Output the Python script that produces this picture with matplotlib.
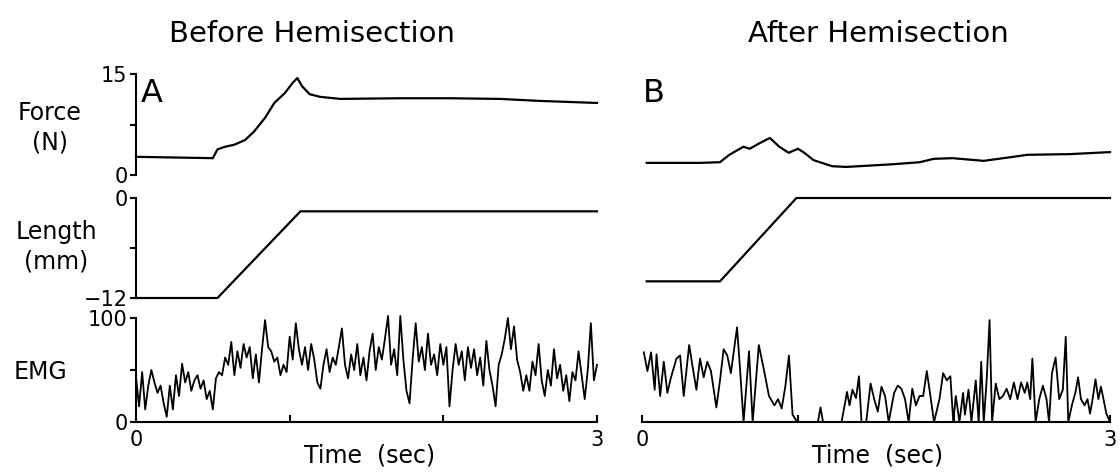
import matplotlib
matplotlib.use("Agg")
import matplotlib.pyplot as plt

# ---- data ----
force_a_t = [0.0, 0.50, 0.53, 0.58, 0.64, 0.71, 0.77, 0.84, 0.90, 0.97, 1.02, 1.05,
             1.08, 1.13, 1.20, 1.33, 1.72, 2.04, 2.37, 2.63, 3.0]
force_a = [2.7, 2.5, 3.8, 4.2, 4.5, 5.2, 6.5, 8.5, 10.7, 12.2, 13.7, 14.4,
           13.2, 12.0, 11.6, 11.3, 11.4, 11.4, 11.3, 11.0, 10.7]

force_b_t = [0.03, 0.37, 0.50, 0.56, 0.65, 0.69, 0.76, 0.82, 0.88, 0.94, 1.00, 1.04,
             1.10, 1.22, 1.31, 1.61, 1.78, 1.87, 1.99, 2.19, 2.38, 2.47, 2.74, 3.0]
force_b = [1.8, 1.8, 1.9, 3.0, 4.2, 3.9, 4.8, 5.5, 4.2, 3.3, 3.9, 3.3,
           2.2, 1.3, 1.2, 1.6, 1.9, 2.4, 2.5, 2.1, 2.7, 3.0, 3.1, 3.4]

length_a_t = [0.0, 0.53, 1.07, 3.0]
length_a = [-12, -12, -1.6, -1.6]
length_b_t = [0.03, 0.50, 0.99, 3.0]
length_b = [-10.0, -10.0, 0.0, 0.0]

emg_a_t = [i * 0.02 for i in range(151)]
emg_a = [43, 15, 48, 12, 35, 50, 38, 28, 35, 18, 5, 35, 12, 45, 25, 56, 38, 48, 30, 40,
         45, 32, 40, 22, 30, 12, 42, 48, 45, 62, 55, 77, 45, 68, 52, 75, 62, 72, 42, 65,
         38, 70, 98, 72, 68, 58, 62, 45, 55, 48, 82, 60, 95, 70, 55, 72, 50, 75, 60, 38,
         32, 55, 70, 48, 62, 55, 72, 90, 55, 42, 65, 50, 75, 45, 62, 40, 68, 85, 50, 72,
         60, 80, 102, 55, 70, 45, 102, 60, 30, 18, 60, 95, 58, 72, 50, 85, 55, 65, 45, 75,
         55, 72, 15, 50, 75, 55, 68, 40, 72, 52, 70, 45, 62, 35, 78, 50, 35, 15, 55, 65,
         80, 100, 70, 92, 60, 48, 30, 45, 30, 58, 45, 75, 40, 25, 50, 35, 70, 42, 55, 30,
         45, 20, 48, 40, 68, 45, 22, 50, 95, 40, 55]

emg_b_x = [255, 265, 275, 285, 290, 300, 310, 320, 330, 345, 355, 365, 380, 390, 400,
           410, 420, 430, 440, 455, 465, 475, 485, 495, 505, 512, 520, 530, 545, 555,
           572, 585, 600, 615, 625, 635, 645, 655, 665, 678, 735, 742, 749, 800, 810,
           815, 822, 830, 840, 848, 855, 868, 880, 890, 900, 910, 920, 930, 945, 955,
           965, 975, 985, 995, 1005, 1015, 1025, 1035, 1045, 1055, 1070, 1080, 1090, 1100,
           1108, 1115, 1125, 1135, 1140, 1150, 1158, 1170, 1178, 1185, 1192, 1200, 1208,
           1215, 1225, 1235, 1245, 1255, 1265, 1275, 1285, 1295, 1305, 1312, 1320, 1326,
           1335, 1345, 1355, 1365, 1372, 1380, 1390, 1400, 1410, 1418, 1425, 1435, 1445,
           1452, 1460, 1470, 1478, 1485, 1492, 1500, 1508, 1515, 1522, 1530, 1540]
emg_b = [67, 49, 67, 31, 65, 25, 58, 28, 43, 61, 64, 25, 74, 52, 31,
         61, 43, 58, 49, 14, 40, 70, 64, 47, 73, 91, 52, 0, 68, 0,
         74, 52, 25, 16, 22, 13, 34, 64, 7, 0, 0, 14, 0, 0, 19,
         29, 16, 31, 23, 44, 0, 0, 37, 22, 10, 34, 25, 0, 28, 35,
         32, 22, 0, 32, 16, 25, 25, 49, 25, 0, 22, 47, 40, 44,
         0, 25, 0, 28, 7, 31, 0, 40, 0, 58, 0, 40, 98,
         0, 37, 22, 25, 32, 22, 38, 22, 38, 28, 38, 22, 61,
         0, 22, 35, 22, 0, 47, 62, 22, 31, 82, 0, 16, 29,
         43, 22, 16, 22, 8, 22, 41, 22, 34, 22, 8, 0]
emg_b_t = [(x - 250) / 430 for x in emg_b_x]

W, H = 1120, 472
fig = plt.figure(figsize=(W / 100, H / 100), dpi=100)
plt.rcParams['font.family'] = ['DejaVu Sans']


def rect(x0, x1, ytop, ybot):
    return [x0 / W, 1 - ybot / H, (x1 - x0) / W, (ybot - ytop) / H]


def ftext(x, y, s, **kw):
    fig.text(x / W, 1 - y / H, s, **kw)


lw = 1.6
rows = [(74, 175, (0, 15), [0, 7.5, 15], ['0', '', '15']),
        (198, 298, (-12, 0), [-12, -6, 0], ['\u221212', '', '0']),
        (318, 422, (0, 100), [0, 50, 100], ['0', '', '100'])]

left = [fig.add_axes(rect(136, 597, r[0], r[1])) for r in rows]
right = [fig.add_axes(rect(642, 1110, r[0], r[1])) for r in rows]

for ax, r in zip(left, rows):
    ax.set_xlim(0, 3)
    ax.set_ylim(*r[2])
    for s in ['top', 'right', 'bottom']:
        ax.spines[s].set_visible(False)
    ax.spines['left'].set_linewidth(1.5)
    ax.set_yticks(r[3])
    ax.set_yticklabels(r[4])
    ax.tick_params(axis='y', direction='out', length=4, width=1.5, pad=2, labelsize=15)
    ax.set_xticks([])

for ax, r in zip(right, rows):
    ax.set_xlim(0, 3)
    ax.set_ylim(*r[2])
    for s in ax.spines.values():
        s.set_visible(False)
    ax.set_xticks([])
    ax.set_yticks([])

for ax in (left[2], right[2]):
    ax.spines['bottom'].set_visible(True)
    ax.spines['bottom'].set_linewidth(1.5)
    ax.set_xticks([0, 1, 2, 3])
    ax.set_xticklabels(['0', '', '', '3'])
    ax.tick_params(axis='x', direction='in', length=5, width=1.5, pad=6, labelsize=15)

kw = dict(color='black', lw=lw, clip_on=False)
left[0].plot(force_a_t, force_a, **kw)
left[1].plot(length_a_t, length_a, **kw)
left[2].plot(emg_a_t, emg_a, lw=1.3, color='black', clip_on=False)
right[0].plot(force_b_t, force_b, **kw)
right[1].plot(length_b_t, length_b, **kw)
right[2].plot(emg_b_t, emg_b, lw=1.3, color='black', clip_on=False)

# titles, row labels, panel letters
ftext(312, 34, 'Before Hemisection', ha='center', va='center', fontsize=21)
ftext(878, 34, 'After Hemisection', ha='center', va='center', fontsize=21)
ftext(50, 128, 'Force\n(N)', ha='center', va='center', fontsize=17, linespacing=1.3)
ftext(56, 247, 'Length\n(mm)', ha='center', va='center', fontsize=17, linespacing=1.3)
ftext(40, 372, 'EMG', ha='center', va='center', fontsize=17)
ftext(152, 93, 'A', ha='center', va='center', fontsize=23)
ftext(654, 94, 'B', ha='center', va='center', fontsize=23)
ftext(370, 455, 'Time  (sec)', ha='center', va='center', fontsize=17)
ftext(878, 455, 'Time  (sec)', ha='center', va='center', fontsize=17)

fig.savefig('out.png', dpi=100)
